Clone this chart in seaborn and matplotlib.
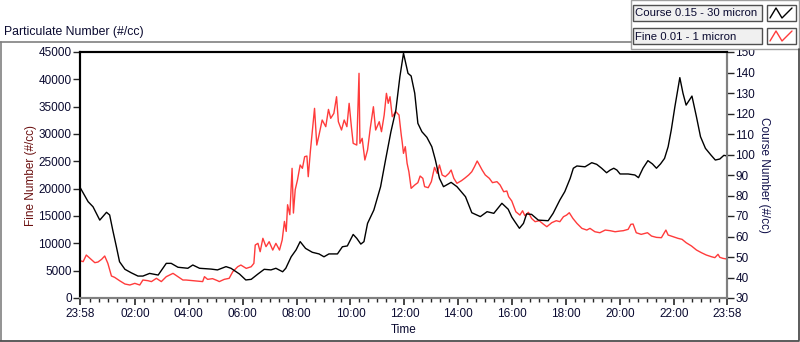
import pandas as pd
import matplotlib.pyplot as plt
import seaborn as sns
from matplotlib.lines import Line2D
from matplotlib.patches import Rectangle

# time is minutes after the first sample (23:58)
coarse_minutes = [0, 18, 29, 44, 59, 66, 73, 81, 88, 100, 114, 129, 140, 155, 162, 174, 192, 203, 218, 240,
                  251, 266, 292, 306, 325, 336, 355, 369, 381, 396, 410, 425, 436, 451, 458, 470, 481, 490,
                  502, 517, 532, 543, 554, 573, 584, 595, 608, 616, 625, 632, 640, 654, 669, 680, 692, 703,
                  712, 720, 730, 737, 745, 752, 761, 772, 783, 791, 800, 809, 826, 839, 858, 872, 891, 906,
                  921, 939, 953, 961, 968, 978, 987, 994, 1005, 1020, 1042, 1053, 1068, 1079, 1091, 1098,
                  1106, 1124, 1139, 1150, 1161, 1172, 1180, 1188, 1195, 1202, 1220, 1235, 1243, 1253, 1264,
                  1274, 1283, 1292, 1301, 1309, 1316, 1324, 1335, 1342, 1349, 1362, 1372, 1381, 1392, 1404,
                  1414, 1424, 1433, 1440]
coarse_counts = [84, 77, 74.5, 68, 71.8, 70.5, 63, 55, 47.7, 44, 42.3, 40.7, 40.7, 42, 41.7, 41.2, 46.9, 46.9,
                 45, 44.5, 46.1, 44.5, 44.1, 43.7, 45.3, 44.5, 41.7, 38.8, 39.1, 41.7, 44, 43.7, 44.5, 42.8,
                 44.5, 50.1, 53.5, 57.5, 54.2, 52.3, 51.5, 50.1, 51.5, 51.5, 55, 55.4, 61, 59.1, 56.3, 57.5,
                 66.4, 72.9, 84.3, 97.3, 111.1, 121.7, 138, 149.4, 139.6, 138.3, 129.9, 115.2, 111.1, 108.4,
                 103.8, 97.3, 88.4, 84.3, 86.4, 84.3, 79.4, 71.6, 69.7, 72.1, 71.3, 76.2, 73.3, 69.5, 67.2,
                 64, 66.4, 71, 70.8, 68, 67.7, 71.3, 77.8, 81.9, 88.4, 93.3, 94.4, 94, 96, 95.2, 93.3, 91.1,
                 92.4, 93.3, 92.4, 90.5, 90.5, 90, 88.7, 93.3, 97, 95.4, 93.3, 95.4, 98.1, 103.8, 112, 123.3,
                 137.5, 129.9, 124.1, 128.5, 118.4, 108.7, 103, 99.8, 97.3, 97.8, 99.6, 99.3]

fine_minutes = [0, 7, 14, 22, 33, 40, 48, 55, 62, 70, 77, 88, 100, 111, 122, 133, 140, 151, 159, 170, 181,
                192, 207, 218, 229, 236, 258, 273, 277, 284, 295, 306, 310, 321, 332, 340, 351, 358, 370,
                381, 387, 390, 396, 401, 407, 414, 421, 429, 436, 444, 450, 455, 459, 462, 467, 472, 475,
                479, 484, 490, 495, 500, 505, 508, 513, 517, 522, 527, 532, 539, 547, 553, 558, 565, 571,
                575, 582, 588, 594, 599, 604, 608, 616, 621, 623, 628, 634, 640, 646, 653, 658, 666, 671,
                677, 682, 686, 690, 695, 703, 710, 715, 717, 720, 724, 728, 732, 737, 745, 752, 757, 763,
                767, 775, 782, 789, 795, 800, 806, 813, 821, 826, 832, 839, 849, 856, 865, 872, 878, 884,
                889, 895, 902, 911, 918, 928, 935, 943, 950, 954, 961, 963, 970, 979, 985, 990, 998, 1005,
                1013, 1022, 1031, 1039, 1050, 1060, 1068, 1076, 1083, 1089, 1097, 1106, 1117, 1128, 1135,
                1146, 1157, 1169, 1180, 1191, 1202, 1209, 1220, 1226, 1231, 1238, 1249, 1263, 1272, 1283,
                1294, 1304, 1309, 1320, 1331, 1340, 1349, 1361, 1372, 1383, 1394, 1405, 1413, 1420, 1424,
                1431, 1440]
fine_counts = [6830, 6650, 7860, 7260, 6460, 6580, 7070, 7680, 6340, 4020, 3780, 3170, 2560, 2380, 2680,
               2380, 3290, 3170, 3000, 3600, 3000, 3900, 4510, 3900, 3290, 3290, 3110, 3000, 3900, 3410,
               3540, 3170, 3000, 3410, 3600, 4810, 5720, 6030, 5420, 5720, 6340, 9690, 10000, 8470, 10920,
               9390, 10300, 8770, 10000, 8770, 10610, 14010, 12180, 17060, 15240, 23720, 15540, 19810,
               21580, 24330, 23720, 25850, 25970, 22190, 27070, 30420, 34690, 27980, 29820, 32560, 31340,
               34500, 32870, 33780, 36820, 32250, 30730, 32560, 31340, 35610, 31340, 28290, 27980, 41100,
               28290, 29210, 25240, 27070, 31040, 34990, 30730, 32250, 30420, 33470, 37440, 35610, 36820,
               33170, 34080, 33470, 29820, 28590, 26460, 27680, 24640, 23100, 20060, 20670, 21100, 22310,
               21890, 20370, 20180, 21280, 23900, 22800, 24330, 22500, 22190, 22800, 23410, 21890, 20980,
               21460, 21890, 22500, 23100, 24020, 25060, 24330, 23410, 22500, 21890, 21100, 21280, 20670,
               19440, 19570, 18530, 17740, 17300, 15780, 15170, 15960, 15060, 15670, 14560, 13960, 14140,
               13530, 13040, 13780, 14140, 13960, 14870, 15170, 15600, 14560, 13650, 12740, 12430, 12740,
               12120, 11940, 12430, 12310, 12120, 12250, 12310, 12560, 13480, 13530, 11940, 11640, 11940,
               11330, 11090, 11030, 12430, 11520, 11210, 10910, 10730, 10120, 9510, 8780, 8290, 7860,
               7560, 7380, 7990, 7440, 7250, 7130]

time_ticks = [0, 122, 242, 362, 482, 602, 722, 842, 962, 1082, 1202, 1322, 1440]
time_labels = ["23:58", "02:00", "04:00", "06:00", "08:00", "10:00", "12:00",
               "14:00", "16:00", "18:00", "20:00", "22:00", "23:58"]
fine_ticks = list(range(0, 45001, 5000))
coarse_ticks = list(range(30, 151, 10))

coarse = pd.DataFrame({"minutes": coarse_minutes, "count": coarse_counts})
fine = pd.DataFrame({"minutes": fine_minutes, "count": fine_counts})

sns.set_style("white")
plt.rcParams['font.family'] = ['Liberation Sans', 'DejaVu Sans']
plt.rcParams['font.size'] = 8.5
txt = '#0a0a30'

W, H = 800, 342
fig = plt.figure(figsize=(W / 100, H / 100), dpi=100)
ax = fig.add_axes([80 / W, 1 - 298 / H, 647 / W, 246 / H])
ax2 = ax.twinx()

sns.lineplot(data=fine, x="minutes", y="count", ax=ax, color='#ff3b3b', lw=1)
sns.lineplot(data=coarse, x="minutes", y="count", ax=ax2, color='black', lw=1)

ax.set_xlim(0, 1440)
ax.set_ylim(0, 45000)
ax2.set_ylim(30, 150)
ax.set_xticks(time_ticks)
ax.set_xticklabels(time_labels, color=txt)
ax.set_xticks([m for m in range(22, 1440, 20) if (m - 2) % 120 != 0], minor=True)
ax.set_yticks(fine_ticks)
ax.set_yticklabels([str(v) for v in fine_ticks], color=txt)
ax2.set_yticks(coarse_ticks)
ax2.set_yticklabels([str(v) for v in coarse_ticks], color=txt)

ax.tick_params(axis='x', which='major', length=5, width=1.2, pad=2, direction='out', bottom=True)
ax.tick_params(axis='x', which='minor', length=3, width=1, bottom=True)
ax.tick_params(axis='y', length=5, width=1, pad=1, left=True)
ax2.tick_params(axis='y', length=5, width=1, pad=1, right=True)

ax.set_xlabel("Time", color=txt, labelpad=3)
ax.set_ylabel("Fine Number (#/cc)", color='#6b1010', labelpad=1)
ax2.set_ylabel("Course Number (#/cc)", color='#10104a', rotation=270, labelpad=11)

for a in (ax, ax2):
    a.spines['top'].set_color('black')
    a.spines['left'].set_color('black')
    a.spines['bottom'].set_color('#808080')
    a.spines['right'].set_color('#808080')
    for s in a.spines.values():
        s.set_linewidth(1.5)


def fx(x):
    return x / W


def fy(y):
    return 1 - y / H


# panel frame
for xs, ys, c in [((0, 631), (42, 42), '#808080'), ((0.5, 0.5), (42, 340), '#808080'),
                  ((0, 799), (340.5, 340.5), '#404040'), ((798.5, 798.5), (49, 340), '#404040')]:
    fig.add_artist(Line2D([fx(v) for v in xs], [fy(v) for v in ys], color=c, lw=1.2,
                          transform=fig.transFigure))

fig.text(fx(4), fy(32), "Particulate Number (#/cc)", color=txt, va='center', ha='left', fontsize=8.8)

# legend panel
fig.add_artist(Rectangle((fx(631), fy(49)), 168 / W, 49 / H, transform=fig.transFigure,
                         fc='white', ec='#a0a0a0', lw=1))
for name, col, top in [("Course 0.15 - 30 micron", 'black', 5), ("Fine 0.01 - 1 micron", '#ff3b3b', 28)]:
    fig.add_artist(Rectangle((fx(633), fy(top + 16)), 129 / W, 16 / H, transform=fig.transFigure,
                             fc='#f0f0f0', ec='#505050', lw=1))
    fig.text(fx(635), fy(top + 8.5), name, color=txt, va='center', ha='left', fontsize=8.2)
    fig.add_artist(Rectangle((fx(767), fy(top + 16)), 29 / W, 16 / H, transform=fig.transFigure,
                             fc='white', ec='#505050', lw=1))
    zx = [770, 776, 782, 792]
    zy = [top + 13, top + 3, top + 13, top + 3]
    fig.add_artist(Line2D([fx(v) for v in zx], [fy(v) for v in zy], color=col, lw=1,
                          transform=fig.transFigure))

fig.savefig("out.png", dpi=100)
